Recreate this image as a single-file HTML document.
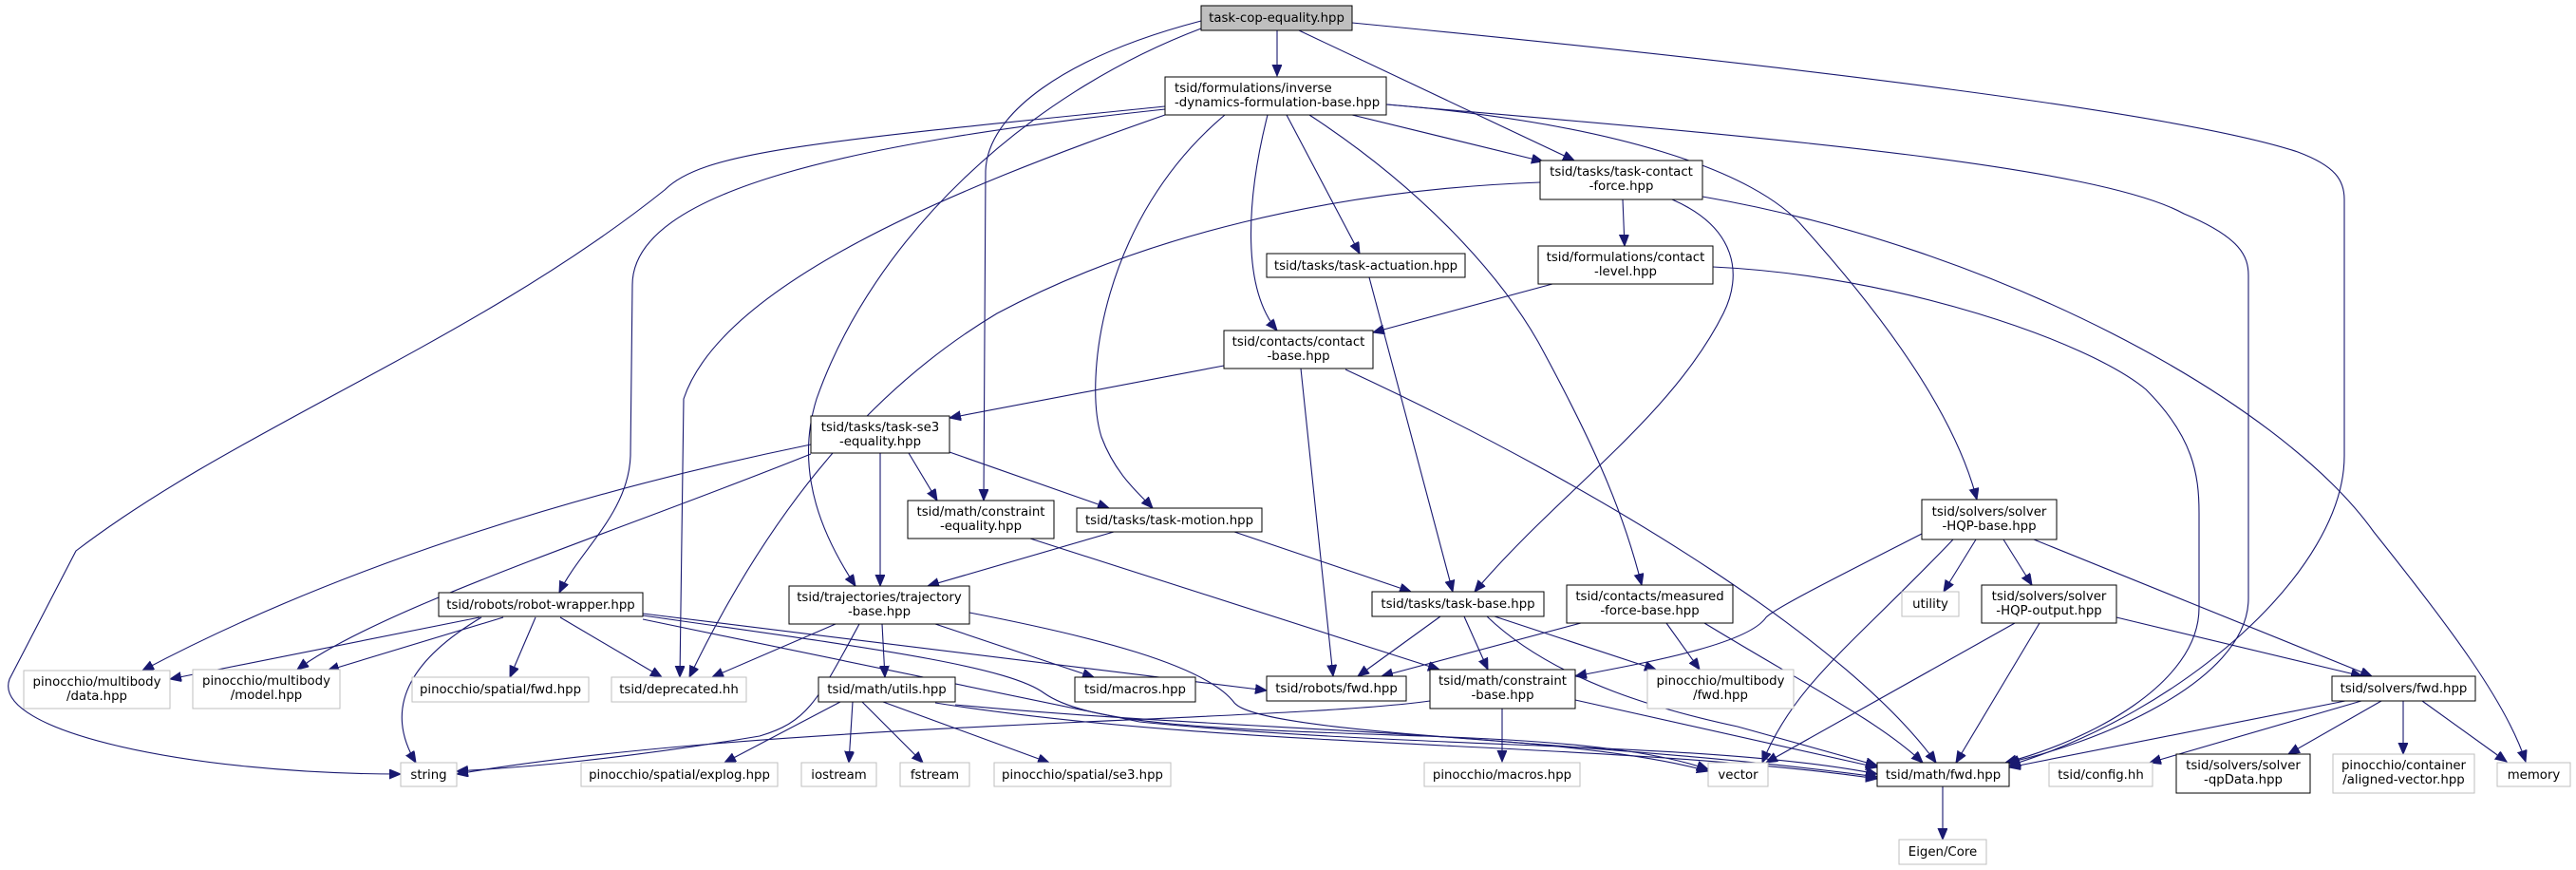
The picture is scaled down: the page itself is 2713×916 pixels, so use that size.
<!DOCTYPE html>
<html><head><meta charset="utf-8"><style>
html,body{margin:0;padding:0;background:#fff;}
svg{display:block;}
text{font-family:"DejaVu Sans","Liberation Sans",sans-serif;font-size:13.3px;fill:#000;}
.e{fill:none;stroke:#191970;stroke-width:1.1;marker-end:url(#a);}
.b{fill:#fff;stroke:#000;stroke-width:1;}
.g{fill:#fff;stroke:#bfbfbf;stroke-width:1;}
</style></head><body>
<svg width="2713" height="916" viewBox="0 0 2713 916" xmlns="http://www.w3.org/2000/svg">
<defs><marker id="a" markerUnits="userSpaceOnUse" markerWidth="14" markerHeight="11" refX="12" refY="5" orient="auto"><path d="M0,0 L12,5 L0,10 z" fill="#191970" stroke="#191970"/></marker></defs>
<g>
<path class="e" d="M1345,32 L1345,80"/>
<path class="e" d="M1368,32 L1658,169"/>
<path class="e" d="M1424,24 C1900,70 2300,120 2420,160 C2460,175 2469,190 2469,210 L2469,480 C2469,600 2300,750 2116,806"/>
<path class="e" d="M1460,110 C1800,140 2200,170 2300,225 C2360,250 2368,270 2368,290 L2368,630 C2368,720 2200,785 2114,803"/>
<path class="e" d="M1804,281 C2000,290 2200,360 2260,410 C2310,460 2316,500 2316,540 L2316,640 C2316,720 2200,780 2112,803"/>
<path class="e" d="M1265,22 C1120,60 1040,120 1038,180 L1036,527"/>
<path class="e" d="M1265,30 C1080,100 920,250 860,420 C835,500 870,570 901,617"/>
<path class="e" d="M1227,112 C850,150 740,160 700,200 C500,360 250,450 80,580 L10,715 C-10,770 200,815 422,815"/>
<path class="e" d="M1227,115 C900,150 666,200 666,300 L664,480 C662,540 610,580 589,624"/>
<path class="e" d="M1227,121 C1000,200 760,300 720,420 L716,713"/>
<path class="e" d="M1290,121 C1160,230 1141,400 1160,460 C1175,500 1200,520 1214,535"/>
<path class="e" d="M1335,121 C1315,200 1305,300 1345,348"/>
<path class="e" d="M1355,121 L1432,267"/>
<path class="e" d="M1379,121 C1500,200 1580,290 1620,360 C1680,470 1710,540 1729,616"/>
<path class="e" d="M1424,121 L1625,170"/>
<path class="e" d="M1461,110 C1700,130 1850,180 1900,240 C1990,340 2060,440 2082,526"/>
<path class="e" d="M1709,210 L1711,259"/>
<path class="e" d="M1622,192 C1400,200 1200,250 1050,330 C900,420 800,560 726,713"/>
<path class="e" d="M1761,210 C1830,240 1835,290 1815,330 C1760,440 1640,520 1553,623"/>
<path class="e" d="M1793,207 C2100,260 2400,420 2500,560 C2580,660 2640,740 2660,802"/>
<path class="e" d="M1442,292 L1530,623"/>
<path class="e" d="M1635,299 L1446,350"/>
<path class="e" d="M1289,385 L1000,440"/>
<path class="e" d="M1370,388 L1404,712"/>
<path class="e" d="M1417,389 C1700,520 1950,680 2039,803"/>
<path class="e" d="M854,468 C600,520 350,600 150,706"/>
<path class="e" d="M854,478 C650,560 400,640 313,705"/>
<path class="e" d="M927,477 L927,617"/>
<path class="e" d="M957,477 L987,527"/>
<path class="e" d="M1000,476 L1168,535"/>
<path class="e" d="M1085,567 L1516,705"/>
<path class="e" d="M1173,560 L977,617"/>
<path class="e" d="M1300,560 L1486,623"/>
<path class="e" d="M505,650 L179,715"/>
<path class="e" d="M530,650 L345,706"/>
<path class="e" d="M507,650 C440,690 400,740 438,803"/>
<path class="e" d="M564,650 L537,713"/>
<path class="e" d="M590,650 L697,713"/>
<path class="e" d="M677,646 L1334,727"/>
<path class="e" d="M677,648 C900,680 1060,700 1100,730 C1150,765 1300,768 1500,775 C1650,780 1740,790 1799,810"/>
<path class="e" d="M677,652 C950,710 1100,740 1200,760 C1500,790 1800,780 1977,815"/>
<path class="e" d="M880,657 L750,713"/>
<path class="e" d="M905,657 C860,740 850,760 800,775 C650,800 550,808 481,812"/>
<path class="e" d="M929,657 L932,713"/>
<path class="e" d="M985,657 L1152,713"/>
<path class="e" d="M1021,645 C1150,670 1270,700 1300,740 C1330,775 1700,780 1977,818"/>
<path class="e" d="M885,739 L763,803"/>
<path class="e" d="M898,739 L894,803"/>
<path class="e" d="M908,739 L972,803"/>
<path class="e" d="M930,739 L1105,803"/>
<path class="e" d="M1006,742 C1300,770 1650,770 1799,812"/>
<path class="e" d="M985,740 C1300,790 1700,780 1977,820"/>
<path class="e" d="M1506,738 C1350,760 800,760 481,815"/>
<path class="e" d="M1517,649 L1430,712"/>
<path class="e" d="M1542,649 L1567,705"/>
<path class="e" d="M1574,649 L1744,705"/>
<path class="e" d="M1566,649 C1640,720 1760,750 1830,765 L1977,806"/>
<path class="e" d="M1665,656 L1455,712"/>
<path class="e" d="M1755,656 L1790,705"/>
<path class="e" d="M1795,656 C1900,720 1980,760 2025,803"/>
<path class="e" d="M2024,562 C1930,610 1870,640 1860,650 C1840,680 1720,700 1659,712"/>
<path class="e" d="M2057,568 C1950,680 1890,720 1856,803"/>
<path class="e" d="M2081,568 L2047,623"/>
<path class="e" d="M2110,568 L2140,616"/>
<path class="e" d="M2142,568 L2498,712"/>
<path class="e" d="M2122,656 L1860,803"/>
<path class="e" d="M2148,656 L2060,803"/>
<path class="e" d="M2229,650 L2488,712"/>
<path class="e" d="M2470,738 L2116,808"/>
<path class="e" d="M2487,738 L2264,803"/>
<path class="e" d="M2508,738 L2410,794"/>
<path class="e" d="M2531,738 L2531,794"/>
<path class="e" d="M2551,738 L2640,802"/>
<path class="e" d="M1582,746 L1582,802"/>
<path class="e" d="M1659,737 L1977,808"/>
<path class="e" d="M2046,828 L2046,884"/>
</g>
<g>
<rect x="1265" y="6" width="159" height="26" fill="#bfbfbf" stroke="#000"/><text x="1344.5" y="23" text-anchor="middle">task-cop-equality.hpp</text>
<rect class="b" x="1227" y="81" width="233" height="40"/><text x="1237" y="97">tsid/formulations/inverse</text><text x="1237" y="112">-dynamics-formulation-base.hpp</text>
<rect class="b" x="1622" y="169" width="171" height="41"/><text x="1707.5" y="185" text-anchor="middle">tsid/tasks/task-contact</text><text x="1707.5" y="200" text-anchor="middle">-force.hpp</text>
<rect class="b" x="1334" y="267" width="209" height="25"/><text x="1438.5" y="284" text-anchor="middle">tsid/tasks/task-actuation.hpp</text>
<rect class="b" x="1620" y="259" width="184" height="40"/><text x="1712" y="275" text-anchor="middle">tsid/formulations/contact</text><text x="1712" y="290" text-anchor="middle">-level.hpp</text>
<rect class="b" x="1289" y="348" width="157" height="40"/><text x="1367.5" y="364" text-anchor="middle">tsid/contacts/contact</text><text x="1367.5" y="379" text-anchor="middle">-base.hpp</text>
<rect class="b" x="854" y="438" width="146" height="39"/><text x="927" y="454" text-anchor="middle">tsid/tasks/task-se3</text><text x="927" y="469" text-anchor="middle">-equality.hpp</text>
<rect class="b" x="956" y="527" width="154" height="40"/><text x="1033" y="543" text-anchor="middle">tsid/math/constraint</text><text x="1033" y="558" text-anchor="middle">-equality.hpp</text>
<rect class="b" x="1134" y="535" width="195" height="25"/><text x="1231.5" y="552" text-anchor="middle">tsid/tasks/task-motion.hpp</text>
<rect class="b" x="2024" y="526" width="142" height="42"/><text x="2095" y="543" text-anchor="middle">tsid/solvers/solver</text><text x="2095" y="558" text-anchor="middle">-HQP-base.hpp</text>
<rect class="b" x="462" y="624" width="215" height="25"/><text x="569.5" y="641" text-anchor="middle">tsid/robots/robot-wrapper.hpp</text>
<rect class="b" x="831" y="617" width="190" height="40"/><text x="926" y="633" text-anchor="middle">tsid/trajectories/trajectory</text><text x="926" y="648" text-anchor="middle">-base.hpp</text>
<rect class="b" x="1445" y="623" width="181" height="26"/><text x="1535.5" y="640" text-anchor="middle">tsid/tasks/task-base.hpp</text>
<rect class="b" x="1650" y="616" width="175" height="40"/><text x="1737.5" y="632" text-anchor="middle">tsid/contacts/measured</text><text x="1737.5" y="647" text-anchor="middle">-force-base.hpp</text>
<rect class="g" x="2003" y="623" width="60" height="26"/><text x="2033" y="640" text-anchor="middle">utility</text>
<rect class="b" x="2087" y="616" width="142" height="40"/><text x="2158" y="632" text-anchor="middle">tsid/solvers/solver</text><text x="2158" y="647" text-anchor="middle">-HQP-output.hpp</text>
<rect class="g" x="25" y="706" width="154" height="40"/><text x="102" y="722" text-anchor="middle">pinocchio/multibody</text><text x="102" y="737" text-anchor="middle">/data.hpp</text>
<rect class="g" x="203" y="705" width="155" height="41"/><text x="280.5" y="721" text-anchor="middle">pinocchio/multibody</text><text x="280.5" y="736" text-anchor="middle">/model.hpp</text>
<rect class="g" x="434" y="713" width="186" height="26"/><text x="527" y="730" text-anchor="middle">pinocchio/spatial/fwd.hpp</text>
<rect class="g" x="644" y="713" width="142" height="26"/><text x="715" y="730" text-anchor="middle">tsid/deprecated.hh</text>
<rect class="b" x="862" y="713" width="144" height="26"/><text x="934" y="730" text-anchor="middle">tsid/math/utils.hpp</text>
<rect class="b" x="1132" y="713" width="127" height="26"/><text x="1195.5" y="730" text-anchor="middle">tsid/macros.hpp</text>
<rect class="b" x="1334" y="712" width="147" height="26"/><text x="1407.5" y="729" text-anchor="middle">tsid/robots/fwd.hpp</text>
<rect class="b" x="1506" y="705" width="153" height="41"/><text x="1582.5" y="721" text-anchor="middle">tsid/math/constraint</text><text x="1582.5" y="736" text-anchor="middle">-base.hpp</text>
<rect class="g" x="1735" y="705" width="154" height="41"/><text x="1812" y="721" text-anchor="middle">pinocchio/multibody</text><text x="1812" y="736" text-anchor="middle">/fwd.hpp</text>
<rect class="b" x="2456" y="712" width="151" height="26"/><text x="2531.5" y="729" text-anchor="middle">tsid/solvers/fwd.hpp</text>
<rect class="g" x="422" y="803" width="59" height="25"/><text x="451.5" y="820" text-anchor="middle">string</text>
<rect class="g" x="612" y="803" width="207" height="25"/><text x="715.5" y="820" text-anchor="middle">pinocchio/spatial/explog.hpp</text>
<rect class="g" x="844" y="803" width="79" height="25"/><text x="883.5" y="820" text-anchor="middle">iostream</text>
<rect class="g" x="948" y="803" width="73" height="25"/><text x="984.5" y="820" text-anchor="middle">fstream</text>
<rect class="g" x="1047" y="803" width="186" height="25"/><text x="1140" y="820" text-anchor="middle">pinocchio/spatial/se3.hpp</text>
<rect class="g" x="1500" y="803" width="164" height="25"/><text x="1582" y="820" text-anchor="middle">pinocchio/macros.hpp</text>
<rect class="g" x="1799" y="803" width="63" height="25"/><text x="1830.5" y="820" text-anchor="middle">vector</text>
<rect class="b" x="1977" y="803" width="139" height="25"/><text x="2046.5" y="820" text-anchor="middle">tsid/math/fwd.hpp</text>
<rect class="g" x="2158" y="803" width="109" height="25"/><text x="2212.5" y="820" text-anchor="middle">tsid/config.hh</text>
<rect class="b" x="2292" y="794" width="141" height="41"/><text x="2362.5" y="810" text-anchor="middle">tsid/solvers/solver</text><text x="2362.5" y="825" text-anchor="middle">-qpData.hpp</text>
<rect class="g" x="2457" y="794" width="149" height="41"/><text x="2531.5" y="810" text-anchor="middle">pinocchio/container</text><text x="2531.5" y="825" text-anchor="middle">/aligned-vector.hpp</text>
<rect class="g" x="2630" y="803" width="77" height="25"/><text x="2668.5" y="820" text-anchor="middle">memory</text>
<rect class="g" x="2000" y="884" width="92" height="26"/><text x="2046" y="901" text-anchor="middle">Eigen/Core</text>
</g>
</svg>
</body></html>
